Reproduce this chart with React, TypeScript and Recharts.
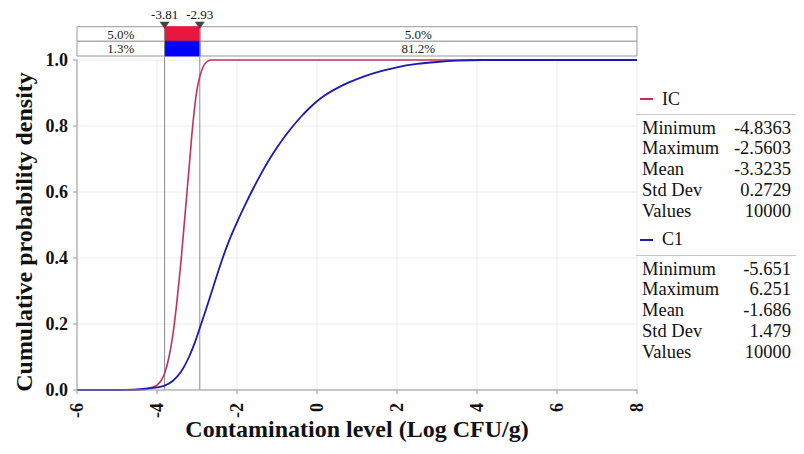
import React from 'react';
import {
  LineChart, Line, XAxis, YAxis, CartesianGrid, ReferenceArea, ReferenceLine, ReferenceDot, Legend,
} from 'recharts';

// ---- data ----
const icX = [-6, -4.6, -4.3, -4.15, -4.0, -3.9, -3.81, -3.7, -3.6, -3.5, -3.4, -3.3, -3.2, -3.1, -3.0, -2.93, -2.85, -2.76, -2.65, 8];
const icY = [0, 0, 0.002, 0.007, 0.015, 0.028, 0.05, 0.1, 0.17, 0.27, 0.39, 0.53, 0.67, 0.81, 0.91, 0.95, 0.978, 0.994, 1, 1];

const c1X = [-6, -5, -4.6, -4.3, -4.0, -3.81, -3.6, -3.4, -3.2, -3.05, -2.93, -2.8, -2.6, -2.4, -2.2, -2.0, -1.8, -1.6, -1.4, -1.2, -1.0, -0.8, -0.6, -0.4, -0.2, 0, 0.2, 0.4, 0.6, 0.8, 1.2, 1.6, 2.0, 2.5, 3.0, 3.5, 4.2, 8];
const c1Y = [0, 0, 0.001, 0.004, 0.008, 0.013, 0.028, 0.055, 0.1, 0.145, 0.188, 0.235, 0.31, 0.385, 0.452, 0.508, 0.56, 0.609, 0.655, 0.697, 0.735, 0.769, 0.8, 0.828, 0.853, 0.875, 0.893, 0.908, 0.921, 0.932, 0.951, 0.966, 0.978, 0.988, 0.994, 0.998, 1, 1];

const xTicks = [-6, -4, -2, 0, 2, 4, 6, 8];
const yTicks = [0, 0.2, 0.4, 0.6, 0.8, 1.0];

const leftMarker = -3.81;
const rightMarker = -2.93;
const icBand = ['5.0%', '5.0%'];
const c1Band = ['1.3%', '81.2%'];

const statLabels = ['Minimum', 'Maximum', 'Mean', 'Std Dev', 'Values'];
const icStats = ['-4.8363', '-2.5603', '-3.3235', '0.2729', '10000'];
const c1Stats = ['-5.651', '6.251', '-1.686', '1.479', '10000'];

const seriesNames = ['IC', 'C1'];
const IC_COLOR = '#c2305c';
const C1_COLOR = '#1a1ab4';
const RED_FILL = '#e8173f';
const BLUE_FILL = '#0000ff';

// band rows (in y-axis units, above the plotted domain)
const BAND_TOP = 1.1009;
const BAND_MID = 1.0567;
const BAND_BOT = 1.0121;

const icData = icX.map((x, i) => ({ x, y: icY[i] }));
const c1Data = c1X.map((x, i) => ({ x, y: c1Y[i] }));

const FONT = '"Liberation Serif", "Times New Roman", serif';

const XTick = (props: any) => {
  const { x, y, payload } = props;
  const ay = y + 7;
  return (
    <text
      x={x}
      y={ay}
      transform={`rotate(-90, ${x}, ${ay})`}
      textAnchor="end"
      dy="0.35em"
      fontFamily={FONT}
      fontWeight="bold"
      fontSize={18}
      fill="#111"
    >
      {payload.value}
    </text>
  );
};

const Marker = (label: string) => (props: any) => {
  const { cx, cy } = props;
  return (
    <g>
      <path d={`M ${cx - 5} ${cy - 5} L ${cx + 5} ${cy - 5} L ${cx} ${cy + 2} Z`} fill="#444" />
      <text x={cx} y={cy - 8} textAnchor="middle" fontFamily={FONT} fontSize={13} fill="#111">{label}</text>
    </g>
  );
};

const StatsBlock = ({ name, color, values, last }: { name: string; color: string; values: string[]; last?: boolean }) => (
  <div>
    <div style={{ height: 30, display: 'flex', alignItems: 'center', paddingLeft: 4 }}>
      <span style={{ display: 'inline-block', width: 13, height: 2, background: color, marginRight: 9 }} />
      <span style={{ fontSize: 18 }}>{name}</span>
    </div>
    <div style={{ borderTop: '1px solid #c8c8c8', width: 160, paddingTop: 2.6, paddingBottom: last ? 0 : 3.4, boxSizing: 'border-box' }}>
      {statLabels.map((l, i) => (
        <div key={l} style={{ display: 'flex', justifyContent: 'space-between', height: 20.8, lineHeight: '20.8px', paddingLeft: 6, paddingRight: 5 }}>
          <span>{l}</span>
          <span>{values[i]}</span>
        </div>
      ))}
    </div>
  </div>
);

const renderLegend = () => (
  <div style={{ fontFamily: FONT, fontSize: 18.5, color: '#111', textAlign: 'left' }}>
    <StatsBlock name={seriesNames[0]} color={IC_COLOR} values={icStats} />
    <StatsBlock name={seriesNames[1]} color={C1_COLOR} values={c1Stats} last />
  </div>
);

export default function App() {
  return (
    <div style={{ position: 'absolute', left: 0, top: 0, width: 804, height: 454, background: '#fff' }}>
      <LineChart width={804} height={454} margin={{ top: 60, right: 167, bottom: 0, left: 0 }}>
        <CartesianGrid stroke="#ebebeb" vertical horizontal />
        <XAxis
          type="number"
          dataKey="x"
          domain={[-6, 8]}
          ticks={xTicks}
          interval={0}
          height={64}
          tick={<XTick />}
          tickSize={4}
          stroke="#9a9a9a"
          label={{
            content: (p: any) => (
              <text
                x={p.viewBox.x + p.viewBox.width / 2}
                y={437}
                textAnchor="middle"
                fontFamily={FONT}
                fontWeight="bold"
                fontSize={24}
                fill="#111"
              >
                Contamination level (Log CFU/g)
              </text>
            ),
          }}
        />
        <YAxis
          type="number"
          domain={[0, 1]}
          ticks={yTicks}
          interval={0}
          width={77}
          tickSize={4}
          tickMargin={5}
          stroke="#9a9a9a"
          tickFormatter={(v: number) => v.toFixed(1)}
          tick={{ fontFamily: FONT, fontWeight: 'bold', fontSize: 18, fill: '#111' }}
          label={{
            content: (p: any) => {
              const cy = p.viewBox.y + p.viewBox.height / 2 + 7;
              return (
                <text
                  x={32}
                  y={cy}
                  transform={`rotate(-90, 32, ${cy})`}
                  textAnchor="middle"
                  fontFamily={FONT}
                  fontWeight="bold"
                  fontSize={24}
                  fill="#111"
                >
                  Cumulative probability density
                </text>
              );
            },
          }}
        />

        {/* band rows */}
        <ReferenceArea x1={-6} x2={leftMarker} y1={BAND_MID} y2={BAND_TOP} ifOverflow="visible" fill="#fff" fillOpacity={1} stroke="#999"
          label={{ value: icBand[0], position: 'center', fontFamily: FONT, fontSize: 13, fill: '#222' }} />
        <ReferenceArea x1={rightMarker} x2={8} y1={BAND_MID} y2={BAND_TOP} ifOverflow="visible" fill="#fff" fillOpacity={1} stroke="#999"
          label={{ value: icBand[1], position: 'center', fontFamily: FONT, fontSize: 13, fill: '#222' }} />
        <ReferenceArea x1={leftMarker} x2={rightMarker} y1={BAND_MID} y2={BAND_TOP} ifOverflow="visible" fill={RED_FILL} fillOpacity={1} stroke={RED_FILL} />
        <ReferenceArea x1={-6} x2={leftMarker} y1={BAND_BOT} y2={BAND_MID} ifOverflow="visible" fill="#fff" fillOpacity={1} stroke="#999"
          label={{ value: c1Band[0], position: 'center', fontFamily: FONT, fontSize: 13, fill: '#222' }} />
        <ReferenceArea x1={rightMarker} x2={8} y1={BAND_BOT} y2={BAND_MID} ifOverflow="visible" fill="#fff" fillOpacity={1} stroke="#999"
          label={{ value: c1Band[1], position: 'center', fontFamily: FONT, fontSize: 13, fill: '#222' }} />
        <ReferenceArea x1={leftMarker} x2={rightMarker} y1={BAND_BOT} y2={BAND_MID} ifOverflow="visible" fill={BLUE_FILL} fillOpacity={1} stroke={BLUE_FILL} />

        <ReferenceLine segment={[{ x: leftMarker, y: 0 }, { x: leftMarker, y: BAND_TOP }]} ifOverflow="visible" stroke="#8a8a8a" strokeWidth={1} />
        <ReferenceLine segment={[{ x: rightMarker, y: 0 }, { x: rightMarker, y: BAND_TOP }]} ifOverflow="visible" stroke="#8a8a8a" strokeWidth={1} />

        <Line data={icData} dataKey="y" name={seriesNames[0]} type="monotone" stroke={IC_COLOR} strokeWidth={1.6} dot={false} isAnimationActive={false} />
        <Line data={c1Data} dataKey="y" name={seriesNames[1]} type="monotone" stroke={C1_COLOR} strokeWidth={1.8} dot={false} isAnimationActive={false} />

        <ReferenceDot x={leftMarker} y={BAND_TOP} ifOverflow="visible" shape={Marker(String(leftMarker))} />
        <ReferenceDot x={rightMarker} y={BAND_TOP} ifOverflow="visible" shape={Marker(String(rightMarker))} />

        <Legend
          layout="horizontal"
          verticalAlign="middle"
          align="center"
          content={renderLegend}
          wrapperStyle={{ left: 636, top: 84, width: 168 }}
        />
      </LineChart>
    </div>
  );
}
